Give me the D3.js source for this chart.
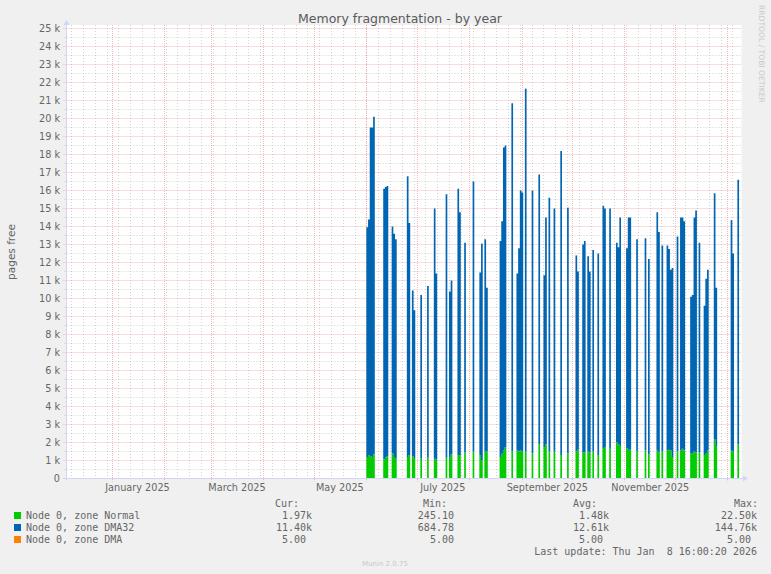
<!DOCTYPE html>
<html>
<head>
<meta charset="utf-8">
<script src="https://cdn.jsdelivr.net/npm/d3@7"></script>
<style>
    body { margin: 0; background: #f0f0f0; }
    svg { display: block; }
    text { font-family: 'DejaVu Sans', sans-serif; fill: #666; }
    .mono { font-family: 'DejaVu Sans Mono', monospace; white-space: pre; }
</style>
</head>
<body>
<svg></svg>
<script>
// data: one value per day, day offset counted from 2025-06-01 (UTC)
const firstDay = Date.UTC(2025, 5, 1);
const lastUpdate = Date.UTC(2026, 0, 8, 16, 0, 20);

const days = [
    0, 1, 2, 3, 4, 10, 11, 12, 15, 16, 17, 24, 25, 27, 28, 32, 36, 40, 41, 47,
    49, 50, 54, 55, 58, 63, 67, 68, 70, 71, 79, 80, 81, 82, 86, 89, 90, 91, 92, 94,
    98, 102, 105, 106, 108, 111, 115, 119, 124, 125, 128, 129, 131, 132, 134, 137, 140, 141, 144, 148,
    149, 150, 154, 155, 156, 160, 165, 167, 172, 173, 175, 178, 179, 180, 181, 184, 186, 187, 188, 192,
    193, 194, 195, 197, 200, 201, 202, 206, 207, 216, 217, 220
];
const normal = [
    1200, 1300, 1250, 1150, 1350, 1050, 1150, 1250, 1400, 1200, 1100, 1200, 1300, 1250, 1100, 1100, 1150, 1100, 1050, 1150,
    1150, 1350, 1300, 1300, 1450, 1500, 1300, 1000, 1500, 1500, 1200, 1370, 1550, 1740, 1500, 1550, 1500, 1550, 1500, 1500,
    1400, 1900, 1740, 1900, 1500, 1500, 1300, 1400, 1500, 1600, 1450, 1450, 1500, 1450, 1500, 1300, 1700, 1750, 1650, 2000,
    1900, 1800, 1700, 1600, 1600, 1500, 1550, 1350, 1550, 1450, 1500, 1550, 1600, 1550, 1200, 1500, 1550, 1650, 1550, 1370,
    1400, 1500, 1450, 1450, 1300, 1370, 1550, 2200, 1800, 1550, 1500, 1900
];
const dma32 = [
    12755, 13095, 18245, 18345, 18745, 15045, 15045, 14995, 12595, 12395, 12195, 15595, 12895, 9195, 8245, 9095, 9545, 13895, 10345, 14645,
    9245, 9645, 14795, 13495, 11645, 14995, 10145, 12045, 11795, 9095, 11995, 12925, 16845, 16755, 19345, 9845, 11295, 14445, 14395, 20155,
    14595, 14995, 9555, 12595, 14095, 13495, 16895, 13645, 10895, 9895, 11545, 11745, 10845, 10045, 11195, 11195, 13445, 13245, 13345, 11095,
    10945, 12695, 11095, 12895, 12895, 11795, 11795, 10845, 13245, 12245, 11445, 11395, 11145, 10045, 10495, 11945, 12945, 12845, 12745, 8725,
    8795, 12995, 13445, 11645, 8295, 9725, 10045, 13645, 8795, 12795, 10995, 14695
];
const dmaPages = 5;

const seriesKeys = ['normal', 'dma32', 'dma'];
const seriesNames = ['Node 0, zone Normal', 'Node 0, zone DMA32', 'Node 0, zone DMA'];
const seriesColors = ['#00cc00', '#0066b3', '#ff8000'];
// rrdtool style "%6.2lf%s": the unit slot holds a space when there is no prefix
const curValues = ['1.97k', '11.40k', '5.00 '];
const minValues = ['245.10 ', '684.78 ', '5.00 '];
const avgValues = ['1.48k', '12.61k', '5.00 '];
const maxValues = ['22.50k', '144.76k', '5.00 '];

const yTicks = d3.range(0, 25001, 1000);
const yMinor = d3.range(500, 25000, 1000);

const width = 771;
const height = 574;
const plot = { left: 66.5, right: 741.5, top: 25, bottom: 478.5 };

const svg = d3.select('svg')
    .attr('width', width)
    .attr('height', height)
;

svg.append('rect')
    .attr('width', width)
    .attr('height', height)
    .attr('fill', '#f0f0f0')
;
svg.append('rect')
    .attr('x', plot.left)
    .attr('y', plot.top)
    .attr('width', plot.right - plot.left)
    .attr('height', plot.bottom - plot.top)
    .attr('fill', '#fff')
;

// scales
const x = d3.scaleUtc()
    .domain([ new Date(lastUpdate - 400 * 864e5), new Date(lastUpdate) ])
    .range([ 65.6, 740.2 ])
;
const y = d3.scaleLinear().domain([ 0, 25000 ]).range([ 478.5, 28.5 ]);
const dayDate = t => new Date(firstDay + t * 864e5);

// grid
const grid = svg.append('g');
const [ t0, t1 ] = x.domain();
const minorColor = 'rgba(150,150,150,0.42)';
const majorColor = 'rgba(240,80,80,0.38)';

grid.selectAll('.vminor')
    .data(d3.utcSunday.range(t0, t1))
    .enter().append('line')
        .attr('x1', d => Math.round(x(d)) + 0.5).attr('x2', d => Math.round(x(d)) + 0.5)
        .attr('y1', plot.top).attr('y2', plot.bottom + 2)
        .attr('stroke', minorColor)
        .attr('stroke-dasharray', '1,2')
;
grid.selectAll('.hminor')
    .data(yMinor)
    .enter().append('line')
        .attr('x1', plot.left - 2).attr('x2', plot.right)
        .attr('y1', d => y(d)).attr('y2', d => y(d))
        .attr('stroke', minorColor)
        .attr('stroke-dasharray', '1,2')
;
grid.selectAll('.vmajor')
    .data(d3.utcMonth.range(t0, t1))
    .enter().append('line')
        .attr('x1', d => Math.round(x(d)) + 0.5).attr('x2', d => Math.round(x(d)) + 0.5)
        .attr('y1', plot.top).attr('y2', plot.bottom + 3)
        .attr('stroke', majorColor)
        .attr('stroke-dasharray', '1,1')
;
grid.selectAll('.hmajor')
    .data(yTicks)
    .enter().append('line')
        .attr('x1', plot.left - 3).attr('x2', plot.right)
        .attr('y1', d => y(d)).attr('y2', d => y(d))
        .attr('stroke', majorColor)
        .attr('stroke-dasharray', '1,1')
;

// stacked data, missing days left as gaps
const byDay = new Map(days.map((d, i) => [ d, { normal: normal[i], dma32: dma32[i], dma: dmaPages } ]));
const rows = d3.range(0, 222).map(t => {
    const v = byDay.get(t);
    return { t, has: !!v, normal: v ? v.normal : 0, dma32: v ? v.dma32 : 0, dma: v ? v.dma : 0 };
});
const stacked = d3.stack().keys(seriesKeys)(rows);

const stepPoints = layer => {
    const pts = [];
    layer.forEach((p, i) => {
        if (!p.data.has) return;
        pts.push({ t: p.data.t, y0: p[0], y1: p[1] });
        const next = layer[i + 1];
        if (!next || !next.data.has) {
            pts.push({ t: p.data.t + 1, y0: p[0], y1: p[1] });
            pts.push(null);
        }
    });
    return pts;
};

const area = d3.area()
    .defined(d => d !== null)
    .x(d => x(dayDate(d.t)))
    .y0(d => y(d.y0))
    .y1(d => y(d.y1))
    .curve(d3.curveStepAfter)
;

svg.append('g').selectAll('path')
    .data(stacked)
    .enter().append('path')
        .attr('d', layer => area(stepPoints(layer)))
        .attr('fill', (d, i) => seriesColors[i])
;

// axes
const yAxisGroup = svg.append('g').attr('transform', 'translate(60, 0)');
yAxisGroup.call(d3.axisLeft(y)
    .tickValues(yTicks)
    .tickSize(0)
    .tickPadding(0)
    .tickFormat(d => d === 0 ? '0' : d / 1000 + ' k'));
yAxisGroup.select('.domain').remove();
yAxisGroup.selectAll('text')
    .attr('font-family', 'DejaVu Sans')
    .attr('font-size', 9.7)
    .attr('fill', '#666')
;

// labels every second month, centred half a month after the month start
const monthLabels = d3.utcMonth.range(t0, t1)
    .filter(d => d.getUTCMonth() % 2 === 0)
    .map(d => new Date(+d + 15 * 864e5))
    .filter(d => d < t1);
const xAxisGroup = svg.append('g').attr('transform', `translate(0, ${plot.bottom + 6})`);
xAxisGroup.call(d3.axisBottom(x)
    .tickValues(monthLabels)
    .tickSize(0)
    .tickPadding(0)
    .tickFormat(d => d3.utcFormat('%B %Y')(d3.utcMonth.floor(d))));
xAxisGroup.select('.domain').remove();
xAxisGroup.selectAll('text')
    .attr('font-family', 'DejaVu Sans')
    .attr('font-size', 9.7)
    .attr('fill', '#666')
;

// axis lines with arrows
const axisColor = '#cfd6f8';
svg.append('line')
    .attr('x1', plot.left).attr('x2', plot.left)
    .attr('y1', plot.bottom + 2).attr('y2', 24)
    .attr('stroke', axisColor)
;
svg.append('line')
    .attr('x1', plot.left - 3).attr('x2', 744)
    .attr('y1', plot.bottom).attr('y2', plot.bottom)
    .attr('stroke', axisColor)
;
svg.append('path')
    .attr('d', `M${plot.left - 3},25 L${plot.left + 3},25 L${plot.left},20 Z`)
    .attr('fill', axisColor)
;
svg.append('path')
    .attr('d', `M743,${plot.bottom - 3} L743,${plot.bottom + 3} L748,${plot.bottom} Z`)
    .attr('fill', axisColor)
;

// titles
svg.append('text')
    .attr('x', 400).attr('y', 23)
    .attr('text-anchor', 'middle')
    .attr('font-size', 12.5)
    .style('fill', '#5a5a5a')
    .text('Memory fragmentation - by year')
;
svg.append('text')
    .attr('transform', 'translate(15, 252) rotate(-90)')
    .attr('text-anchor', 'middle')
    .attr('font-size', 10.5)
    .text('pages free')
;
svg.append('text')
    .attr('transform', 'translate(759, 5) rotate(90)')
    .attr('font-size', 7.6)
    .style('fill', '#c8c8c8')
    .text('RRDTOOL / TOBI OETIKER')
;

// legend
const legend = svg.append('g').attr('class', 'mono').attr('font-size', 10);
const cols = [ { head: 'Cur:', headX: 299, end: 312, vals: curValues },
               { head: 'Min:', headX: 447, end: 460, vals: minValues },
               { head: 'Avg:', headX: 597, end: 609, vals: avgValues },
               { head: 'Max:', headX: 758, end: 757, vals: maxValues } ];
cols.forEach(c => {
    legend.append('text')
        .attr('class', 'mono')
        .attr('x', c.headX).attr('y', 506.5)
        .attr('text-anchor', 'end')
        .text(c.head);
    c.vals.forEach((v, i) => {
        legend.append('text')
            .attr('class', 'mono')
            .attr('x', c.end).attr('y', 518.5 + i * 12)
            .attr('text-anchor', 'end')
            .text(v);
    });
});
seriesNames.forEach((name, i) => {
    legend.append('rect')
        .attr('x', 14).attr('y', 512 + i * 12)
        .attr('width', 7).attr('height', 7)
        .attr('fill', seriesColors[i]);
    legend.append('text')
        .attr('class', 'mono')
        .attr('x', 26).attr('y', 518.5 + i * 12)
        .text(name);
});
legend.append('text')
    .attr('class', 'mono')
    .attr('x', 757).attr('y', 554.5)
    .attr('text-anchor', 'end')
    .text('Last update: Thu Jan  8 16:00:20 2026');

svg.append('text')
    .attr('x', 385).attr('y', 566)
    .attr('text-anchor', 'middle')
    .attr('font-size', 7)
    .style('fill', '#c8c8c8')
    .text('Munin 2.0.75')
;
</script>
</body>
</html>
